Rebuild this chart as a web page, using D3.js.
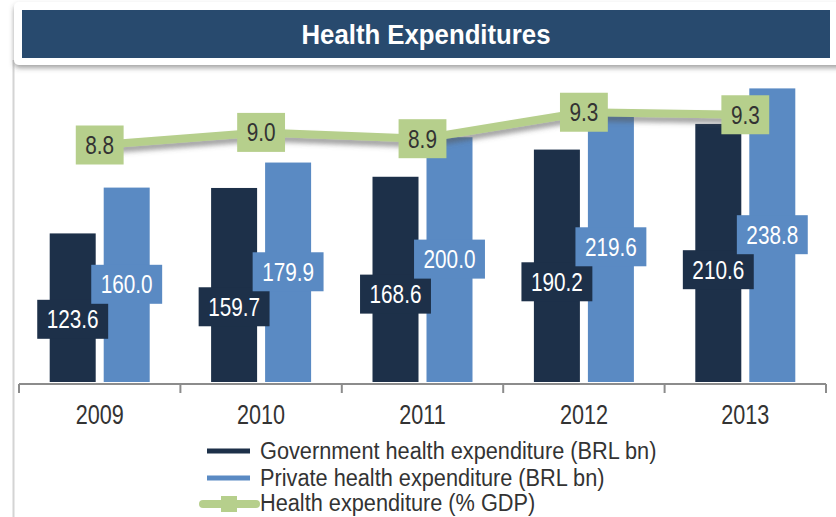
<!DOCTYPE html>
<html>
<head>
<meta charset="utf-8">
<script src="https://cdn.jsdelivr.net/npm/d3@7/dist/d3.min.js"></script>
<style>
  html, body { margin: 0; padding: 0; background: #fff; }
  svg { display: block; }
  text { font-family: "Liberation Sans", Arial, sans-serif; }
</style>
</head>
<body>
<svg id="chart" width="836" height="517"></svg>
<script>
const title = "Health Expenditures";
const years = ["2009", "2010", "2011", "2012", "2013"];
const govValues = [123.6, 159.7, 168.6, 190.2, 210.6];
const privValues = [160.0, 179.9, 200.0, 219.6, 238.8];
const gdpValues = [8.8, 9.0, 8.9, 9.32, 9.28];
const seriesNames = [
  "Government health expenditure (BRL bn)",
  "Private health expenditure (BRL bn)",
  "Health expenditure (% GDP)"
];
const colors = { gov: "#1d3049", priv: "#5a8ac3", gdp: "#b6cf8c", header: "#284a6e" };
const NARROW = 0.83;

const svg = d3.select("#chart");
const defs = svg.append("defs");
const sh = defs.append("filter").attr("id", "shadow").attr("x", "-20%").attr("y", "-50%").attr("width", "140%").attr("height", "250%");
sh.append("feDropShadow").attr("dx", 0).attr("dy", 5).attr("stdDeviation", 2.5).attr("flood-color", "#555").attr("flood-opacity", 0.55);
const cardSh = defs.append("filter").attr("id", "cardShadow").attr("x", "-5%").attr("y", "-20%").attr("width", "110%").attr("height", "150%");
cardSh.append("feDropShadow").attr("dx", 0).attr("dy", 3).attr("stdDeviation", 2.5).attr("flood-color", "#444").attr("flood-opacity", 0.5);

function sText(parent, x0, y0, sx, txt) {
  return parent.append("text").attr("transform", `translate(${x0},${y0}) scale(${sx},1)`).text(txt);
}

// chart card border
svg.append("line").attr("x1", 13.5).attr("x2", 13.5).attr("y1", 60).attr("y2", 517)
  .attr("stroke", "#d4d4d4").attr("stroke-width", 2);

// header card
svg.append("rect").attr("x", 14).attr("y", 2).attr("width", 830).attr("height", 63).attr("rx", 5)
  .attr("fill", "#fff").attr("filter", "url(#cardShadow)");
svg.append("rect").attr("x", 22).attr("y", 10).attr("width", 808).attr("height", 48).attr("fill", colors.header);
sText(svg, 426, 34, 0.92, title).attr("dy", "0.35em").attr("text-anchor", "middle")
  .attr("fill", "#fff").attr("font-weight", "bold").attr("font-size", 28);

// scales
const x = d3.scaleBand().domain(years).range([19, 826]).padding(0);
const y = d3.scaleLinear().domain([0, 250]).range([389, 74.3]);
const y2 = d3.scaleLinear().domain([8.8, 9.3]).range([145, 113.5]);
const baseY = 382;
const barW = 46, gap = 8;

// bars
const g = svg.append("g");
years.forEach((yr, i) => {
  const cx = x(yr) + x.bandwidth() / 2;
  g.append("rect").attr("x", cx - gap / 2 - barW).attr("y", y(govValues[i]))
    .attr("width", barW).attr("height", baseY - y(govValues[i])).attr("fill", colors.gov);
  g.append("rect").attr("x", cx + gap / 2).attr("y", y(privValues[i]))
    .attr("width", barW).attr("height", baseY - y(privValues[i])).attr("fill", colors.priv);
});

// axis
const axis = svg.append("g").attr("transform", "translate(0,384)")
  .call(d3.axisBottom(x).tickSize(0).tickPadding(21));
axis.select(".domain").remove();
axis.append("line").attr("x1", 19).attr("x2", 826).attr("stroke", "#8c8c8c").attr("stroke-width", 2);
axis.selectAll(".bnd").data(years.concat(["end"])).enter().append("line")
  .attr("x1", (d, i) => 19 + i * x.bandwidth()).attr("x2", (d, i) => 19 + i * x.bandwidth())
  .attr("y1", 0).attr("y2", 9).attr("stroke", "#8c8c8c").attr("stroke-width", 2);
axis.selectAll(".tick text").attr("font-size", 27).attr("fill", "#333")
  .attr("transform", `scale(0.8,1)`)
  .attr("font-family", "'Liberation Sans', Arial, sans-serif");

// bar labels
function boxLabel(parent, cx, cy, txt, fill, color) {
  const grp = parent.append("g");
  const r = grp.append("rect").attr("fill", fill);
  const t = sText(grp, cx, cy, NARROW, txt).attr("dy", "0.36em").attr("text-anchor", "middle")
    .attr("font-size", 25).attr("fill", color);
  const w = t.node().getComputedTextLength() * NARROW + 19;
  r.attr("x", cx - w / 2).attr("y", cy - 19.5).attr("width", w).attr("height", 39);
}
const labels = svg.append("g");
years.forEach((yr, i) => {
  const cx = x(yr) + x.bandwidth() / 2;
  const privMid = (y(privValues[i]) + y(0)) / 2 - 4;
  boxLabel(labels, cx - gap / 2 - barW / 2, privMid + 35, d3.format(".1f")(govValues[i]), colors.gov, "#fff");
});
years.forEach((yr, i) => {
  const cx = x(yr) + x.bandwidth() / 2;
  const privMid = (y(privValues[i]) + y(0)) / 2 - 4;
  boxLabel(labels, cx + gap / 2 + barW / 2, privMid, d3.format(".1f")(privValues[i]), colors.priv, "#fff");
});

// line
const line = d3.line().x((d, i) => x(years[i]) + x.bandwidth() / 2).y(d => y2(d));
svg.append("path").datum(gdpValues).attr("d", line).attr("fill", "none")
  .attr("stroke", colors.gdp).attr("stroke-width", 8).attr("filter", "url(#shadow)");
const gl = svg.append("g");
gdpValues.forEach((v, i) => {
  boxLabel(gl, x(years[i]) + x.bandwidth() / 2, y2(v), d3.format(".1f")(v), colors.gdp, "#333");
});

// legend
const leg = svg.append("g");
const rows = [451, 478, 503];
leg.append("rect").attr("x", 207).attr("y", rows[0] - 2.5).attr("width", 43).attr("height", 5).attr("fill", colors.gov);
leg.append("rect").attr("x", 207).attr("y", rows[1] - 2.5).attr("width", 43).attr("height", 5).attr("fill", colors.priv);
leg.append("line").attr("x1", 203).attr("x2", 256).attr("y1", rows[2] + 1).attr("y2", rows[2] + 1)
  .attr("stroke", colors.gdp).attr("stroke-width", 8).attr("stroke-linecap", "round");
leg.append("rect").attr("x", 221).attr("y", rows[2] - 7).attr("width", 16).attr("height", 16).attr("fill", colors.gdp);
seriesNames.forEach((n, i) => {
  sText(leg, 260, rows[i], 0.945, n).attr("dy", "0.36em")
    .attr("font-size", 23).attr("fill", "#333");
});
</script>
</body>
</html>
